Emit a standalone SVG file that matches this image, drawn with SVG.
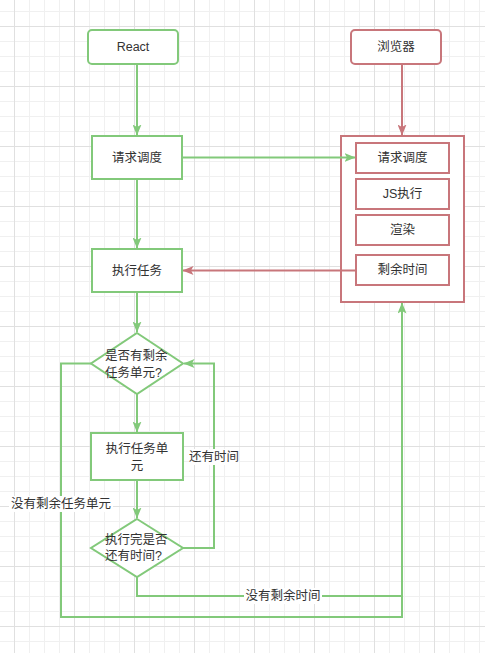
<svg xmlns="http://www.w3.org/2000/svg" width="485" height="653" viewBox="0 0 485 653">
<defs>
<pattern id="grid" patternUnits="userSpaceOnUse" x="14" y="26" width="60" height="60">
<path d="M15.5,0V60M30.5,0V60M45.5,0V60M0,15.5H60M0,30.5H60M0,45.5H60" stroke="#f0f0f0" stroke-width="1" fill="none"/>
<path d="M0.5,0V60M0,0.5H60" stroke="#e0e0e0" stroke-width="1" fill="none"/>
</pattern>
<marker id="ag" viewBox="0 0 11 9" refX="10.5" refY="4.5" markerWidth="11" markerHeight="9" markerUnits="userSpaceOnUse" orient="auto">
<path d="M0,0 L11,4.5 L0,9 L2.5,4.5 z" fill="#82c97a"/>
</marker>
<marker id="ar" viewBox="0 0 11 9" refX="10.5" refY="4.5" markerWidth="11" markerHeight="9" markerUnits="userSpaceOnUse" orient="auto">
<path d="M0,0 L11,4.5 L0,9 L2.5,4.5 z" fill="#c8767b"/>
</marker>
</defs>
<style>
.g{fill:#fff;stroke:#82c97a;stroke-width:2}
.r{fill:#fff;stroke:#c8767b;stroke-width:2}
.t{font-family:"Liberation Sans","Noto Sans CJK SC",sans-serif;font-size:12.5px;fill:#333;dominant-baseline:central}
.c{text-anchor:middle}
.lg{fill:none;stroke:#82c97a;stroke-width:2}
.lr{fill:none;stroke:#c8767b;stroke-width:2}
</style>
<rect width="485" height="653" fill="#fff"/>
<rect width="485" height="653" fill="url(#grid)"/>

<g id="react">
<rect class="g" x="88" y="30" width="90" height="34" rx="4"/>
<text class="t c" x="133" y="47">React</text>
</g>
<g id="browser">
<rect class="r" x="351" y="30" width="90" height="34" rx="4"/>
<text class="t c" x="396" y="47">浏览器</text>
</g>
<g id="request-schedule">
<rect class="g" x="92" y="136" width="90" height="43"/>
<text class="t c" x="137" y="157.5">请求调度</text>
</g>
<g id="execute-task">
<rect class="g" x="92" y="249" width="90" height="43"/>
<text class="t c" x="137" y="270.5">执行任务</text>
</g>
<g id="browser-frame">
<rect class="r" x="341" y="136" width="123" height="166"/>
</g>
<g id="b-request">
<rect class="r" x="356" y="143" width="93" height="30"/>
<text class="t c" x="402.5" y="158">请求调度</text>
</g>
<g id="b-js">
<rect class="r" x="356" y="179" width="93" height="30"/>
<text class="t c" x="402.5" y="194">JS执行</text>
</g>
<g id="b-render">
<rect class="r" x="356" y="215" width="93" height="30"/>
<text class="t c" x="402.5" y="230">渲染</text>
</g>
<g id="b-remaining">
<rect class="r" x="356" y="255" width="93" height="30"/>
<text class="t c" x="402.5" y="270">剩余时间</text>
</g>
<g id="decision-units">
<path class="g" d="M137,333 L183,363.5 L137,394 L91,363.5 Z"/>
<text class="t" x="105" y="356">是否有剩余</text>
<text class="t" x="105" y="372.5">任务单元?</text>
</g>
<g id="execute-unit">
<rect class="g" x="91" y="433" width="92" height="47"/>
<text class="t c" x="137" y="449">执行任务单</text>
<text class="t c" x="137" y="465.5">元</text>
</g>
<g id="decision-time">
<path class="g" d="M137,519 L183,548 L137,577 L91,548 Z"/>
<text class="t" x="105" y="540">执行完是否</text>
<text class="t" x="105" y="556">还有时间?</text>
</g>

<g id="connectors">
<path class="lg" d="M137,64 L137,135" marker-end="url(#ag)"/>
<path class="lg" d="M137,179 L137,248" marker-end="url(#ag)"/>
<path class="lg" d="M137,292 L137,332" marker-end="url(#ag)"/>
<path class="lg" d="M137,394 L137,432" marker-end="url(#ag)"/>
<path class="lg" d="M137,480 L137,518" marker-end="url(#ag)"/>
<path class="lg" d="M183,548 L214,548 L214,363.5 L184,363.5" marker-end="url(#ag)"/>
<path class="lg" d="M91,363.5 L61,363.5 L61,617 L402,617 L402,303" marker-end="url(#ag)"/>
<path class="lg" d="M137,577 L137,596 L402,596"/>
<path class="lg" d="M182,157.5 L355,157.5" marker-end="url(#ag)"/>
<path class="lr" d="M402,64 L402,135" marker-end="url(#ar)"/>
<path class="lr" d="M356,270.5 L183,270.5" marker-end="url(#ar)"/>
<rect x="189" y="449" width="50" height="16" fill="#fff"/>
<text class="t c" x="214" y="457">还有时间</text>
<rect x="9" y="496" width="104" height="16" fill="#fff"/>
<text class="t c" x="61" y="504">没有剩余任务单元</text>
<rect x="244" y="588" width="78" height="16" fill="#fff"/>
<text class="t c" x="283" y="596">没有剩余时间</text>
</g>
</svg>
